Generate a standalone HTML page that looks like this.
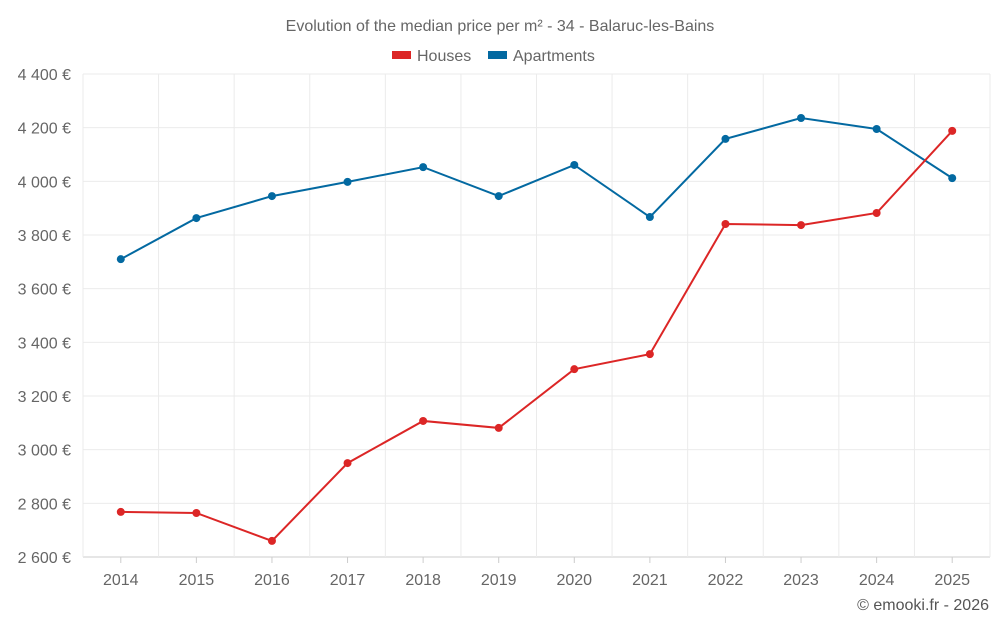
<!DOCTYPE html>
<html><head><meta charset="utf-8">
<style>
body{margin:0;background:#fff;font-family:"Liberation Sans",sans-serif;}
svg text{font-family:"Liberation Sans",sans-serif;}
</style></head>
<body>
<svg id="chart" width="1000" height="625" viewBox="0 0 1000 625" xmlns="http://www.w3.org/2000/svg">
<text x="500" y="31" text-anchor="middle" font-size="16" fill="#666">Evolution of the median price per m² - 34 - Balaruc-les-Bains</text>
<g>
<g><rect x="392" y="51" width="19" height="8" fill="#dc2626"/><text x="417" y="61" font-size="16" fill="#666">Houses</text></g>
<g><rect x="488" y="51" width="19" height="8" fill="#0369a1"/><text x="513" y="61" font-size="16" fill="#666">Apartments</text></g>
</g>
<g id="grid"></g>
<g id="axes"></g>
<g id="series"></g>
<text x="989" y="610" text-anchor="end" font-size="16" fill="#555">© emooki.fr - 2026</text>
</svg>
<script>
const years=["2014","2015","2016","2017","2018","2019","2020","2021","2022","2023","2024","2025"];
const houses=[2768,2764,2660,2950,3107,3081,3300,3356,3841,3837,3882,4188];
const apartments=[3710,3863,3945,3998,4053,3945,4061,3867,4158,4236,4195,4012];
const yTicks=[2600,2800,3000,3200,3400,3600,3800,4000,4200,4400];
const NS="http://www.w3.org/2000/svg";
const L=83,R=990,T=74,B=557,yMin=2600,yMax=4400;
const band=(R-L)/years.length;
const x=i=>L+band*(i+0.5);
const y=v=>B-(v-yMin)/(yMax-yMin)*(B-T);
function mk(tag,attrs,parent){const e=document.createElementNS(NS,tag);for(const k in attrs)e.setAttribute(k,attrs[k]);parent.appendChild(e);return e;}
const grid=document.getElementById('grid'),axes=document.getElementById('axes'),series=document.getElementById('series');
const fmt=v=>String(v).replace(/\B(?=(\d{3})+(?!\d))/g,' ')+' €';
yTicks.forEach(v=>{
 const l=mk('line',{x1:L,x2:R,y1:y(v),y2:y(v),stroke:v===yMin?'#ccc':'#ebebeb'},grid);
 
 
 const t=mk('text',{x:71,y:y(v)+6,'text-anchor':'end','font-size':'16',fill:'#666'},axes);
 t.textContent=fmt(v);
 
 
});
for(let i=0;i<=years.length;i++){
 const l=mk('line',{x1:L+band*i,x2:L+band*i,y1:T,y2:B+(i===0?0:0),stroke:'#ebebeb'},grid);
 
 
}
years.forEach((yr,i)=>{
 const tk=mk('line',{x1:x(i),x2:x(i),y1:B,y2:B+6,stroke:'#ccc'},axes);
 
 
 const t=mk('text',{x:x(i),y:585,'text-anchor':'middle','font-size':'16',fill:'#666'},axes);
 t.textContent=yr;
 
 
});
function draw(data,color,name){
 const p=mk('polyline',{points:data.map((v,i)=>x(i)+','+y(v)).join(' '),fill:'none',stroke:color,'stroke-width':'2'},series);
 
 
 data.forEach((v,i)=>{
  const c=mk('circle',{cx:x(i),cy:y(v),r:4,fill:color},series);
  
  
 });
}
draw(apartments,'#0369a1','apartments');
draw(houses,'#dc2626','houses');
</script>
</body></html>
